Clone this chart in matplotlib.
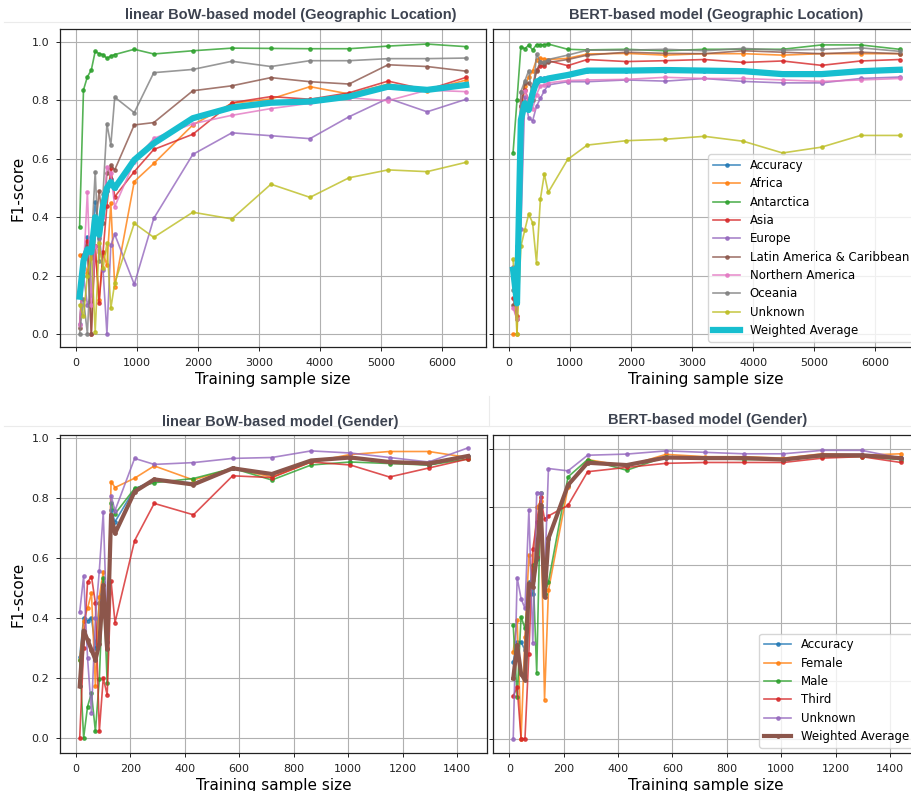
import matplotlib
matplotlib.use("Agg")
import matplotlib.pyplot as plt
from matplotlib.lines import Line2D

# ---------------- data ----------------
x_geo = [64, 128, 192, 256, 320, 384, 448, 512, 576, 640,
         960, 1280, 1920, 2560, 3200, 3840, 4480, 5120, 5760, 6400]
geo_labels = ["Accuracy", "Africa", "Antarctica", "Asia", "Europe",
              "Latin America & Caribbean", "Northern America", "Oceania", "Unknown"]

bow_geo = {
    "Accuracy": [0.14, 0.26, 0.333, 0.27, 0.453, 0.33, 0.43, 0.49, 0.53, 0.50,
                 0.60, 0.655, 0.74, 0.777, 0.793, 0.797, 0.815, 0.846, 0.837, 0.854],
    "Africa": [0.27, 0.25, 0.21, 0.26, 0.30, 0.116, 0.276, 0.236, 0.447, 0.162,
               0.522, 0.584, 0.716, 0.790, 0.805, 0.847, 0.822, 0.856, 0.833, 0.870],
    "Antarctica": [0.365, 0.836, 0.881, 0.904, 0.968, 0.960, 0.957, 0.944, 0.952, 0.957,
                   0.975, 0.959, 0.970, 0.979, 0.978, 0.977, 0.977, 0.986, 0.993, 0.984],
    "Asia": [0.15, 0.27, 0.32, 0.0, 0.30, 0.105, 0.28, 0.44, 0.567, 0.47,
             0.556, 0.632, 0.684, 0.792, 0.813, 0.804, 0.826, 0.866, 0.836, 0.879],
    "Europe": [0.034, 0.20, 0.10, 0.134, 0.38, 0.34, 0.22, 0.0, 0.305, 0.341,
               0.17, 0.396, 0.615, 0.689, 0.679, 0.669, 0.744, 0.807, 0.761, 0.804],
    "Latin America & Caribbean": [0.02, 0.25, 0.30, 0.0, 0.35, 0.49, 0.38, 0.55, 0.579, 0.562,
                                  0.716, 0.724, 0.833, 0.850, 0.878, 0.864, 0.856, 0.922, 0.916, 0.900],
    "Northern America": [0.03, 0.22, 0.487, 0.10, 0.30, 0.28, 0.40, 0.573, 0.55, 0.436,
                         0.59, 0.67, 0.72, 0.749, 0.772, 0.79, 0.809, 0.799, 0.835, 0.83],
    "Oceania": [0.0, 0.12, 0.0, 0.30, 0.556, 0.25, 0.48, 0.719, 0.647, 0.811,
                0.758, 0.895, 0.906, 0.934, 0.916, 0.936, 0.936, 0.943, 0.943, 0.945],
    "Unknown": [0.10, 0.06, 0.20, 0.28, 0.008, 0.31, 0.225, 0.31, 0.088, 0.174,
                0.379, 0.331, 0.417, 0.394, 0.513, 0.468, 0.535, 0.562, 0.556, 0.588],
}
bow_geo_wavg = [0.128, 0.25, 0.29, 0.28, 0.40, 0.34, 0.44, 0.50, 0.52, 0.50,
                0.596, 0.653, 0.739, 0.776, 0.792, 0.796, 0.813, 0.847, 0.836, 0.853]

bert_geo = {
    "Accuracy": [0.22, 0.105, 0.72, 0.79, 0.77, 0.82, 0.86, 0.875, 0.876, 0.875,
                 0.887, 0.90, 0.90, 0.902, 0.90, 0.90, 0.89, 0.89, 0.90, 0.905],
    "Africa": [0.0, 0.0, 0.80, 0.85, 0.88, 0.90, 0.94, 0.944, 0.942, 0.94,
               0.944, 0.959, 0.961, 0.955, 0.96, 0.96, 0.955, 0.96, 0.96, 0.96],
    "Antarctica": [0.621, 0.80, 0.984, 0.977, 0.989, 0.973, 0.991, 0.990, 0.991, 0.993,
                   0.975, 0.973, 0.975, 0.97, 0.975, 0.975, 0.975, 0.99, 0.99, 0.975],
    "Asia": [0.122, 0.06, 0.78, 0.836, 0.80, 0.847, 0.904, 0.918, 0.918, 0.936,
             0.919, 0.94, 0.933, 0.936, 0.94, 0.93, 0.935, 0.92, 0.935, 0.94],
    "Europe": [0.23, 0.15, 0.36, 0.81, 0.74, 0.73, 0.78, 0.807, 0.833, 0.853,
               0.864, 0.864, 0.87, 0.866, 0.875, 0.865, 0.86, 0.86, 0.875, 0.88],
    "Latin America & Caribbean": [0.10, 0.05, 0.78, 0.858, 0.86, 0.84, 0.90, 0.933, 0.925, 0.93,
                                  0.94, 0.955, 0.965, 0.961, 0.96, 0.97, 0.965, 0.96, 0.965, 0.96],
    "Northern America": [0.09, 0.05, 0.83, 0.833, 0.80, 0.77, 0.82, 0.85, 0.853, 0.86,
                         0.868, 0.87, 0.872, 0.879, 0.875, 0.875, 0.87, 0.865, 0.87, 0.875],
    "Oceania": [0.15, 0.30, 0.83, 0.866, 0.902, 0.80, 0.959, 0.93, 0.93, 0.94,
                0.955, 0.972, 0.972, 0.975, 0.97, 0.978, 0.972, 0.975, 0.98, 0.968],
    "Unknown": [0.256, 0.0, 0.30, 0.356, 0.411, 0.381, 0.244, 0.462, 0.548, 0.485,
                0.598, 0.647, 0.662, 0.667, 0.677, 0.66, 0.62, 0.64, 0.68, 0.68],
}
bert_geo_wavg = [0.22, 0.105, 0.733, 0.79, 0.767, 0.824, 0.864, 0.87, 0.87, 0.875,
                 0.887, 0.902, 0.902, 0.904, 0.902, 0.90, 0.89, 0.89, 0.90, 0.905]

x_gen = [14.4, 28.8, 43.2, 57.6, 72, 86.4, 100.8, 115.2, 129.6, 144,
         216, 288, 432, 576, 720, 864, 1008, 1152, 1296, 1440]
gen_labels = ["Accuracy", "Female", "Male", "Third", "Unknown"]

bow_gen = {
    "Accuracy": [0.27, 0.40, 0.39, 0.40, 0.30, 0.45, 0.52, 0.32, 0.76, 0.721,
                 0.83, 0.86, 0.85, 0.90, 0.88, 0.925, 0.935, 0.92, 0.91, 0.94],
    "Female": [0.26, 0.39, 0.433, 0.483, 0.172, 0.47, 0.555, 0.30, 0.855, 0.835,
               0.866, 0.907, 0.86, 0.899, 0.87, 0.92, 0.945, 0.955, 0.955, 0.935],
    "Male": [0.26, 0.0, 0.105, 0.15, 0.022, 0.196, 0.533, 0.183, 0.782, 0.747,
             0.832, 0.851, 0.865, 0.899, 0.86, 0.91, 0.92, 0.915, 0.91, 0.93],
    "Third": [0.0, 0.30, 0.52, 0.538, 0.45, 0.022, 0.20, 0.144, 0.522, 0.385,
              0.658, 0.782, 0.744, 0.874, 0.868, 0.92, 0.91, 0.87, 0.90, 0.93],
    "Unknown": [0.42, 0.54, 0.266, 0.085, 0.40, 0.558, 0.752, 0.35, 0.807, 0.758,
                0.932, 0.912, 0.918, 0.932, 0.935, 0.957, 0.95, 0.935, 0.92, 0.967],
}
bow_gen_wavg = [0.172, 0.358, 0.327, 0.294, 0.261, 0.314, 0.51, 0.296, 0.744, 0.682,
                0.821, 0.862, 0.845, 0.899, 0.88, 0.925, 0.935, 0.92, 0.915, 0.94]

bert_gen = {
    "Accuracy": [0.265, 0.334, 0.334, 0.306, 0.542, 0.50, 0.62, 0.80, 0.50, 0.69,
                 0.875, 0.955, 0.946, 0.972, 0.972, 0.97, 0.966, 0.98, 0.98, 0.97],
    "Female": [0.30, 0.41, 0.0, 0.35, 0.634, 0.55, 0.80, 0.82, 0.135, 0.513,
               0.87, 0.965, 0.942, 0.983, 0.975, 0.975, 0.97, 0.985, 0.98, 0.985],
    "Male": [0.392, 0.144, 0.421, 0.381, 0.50, 0.60, 0.228, 0.848, 0.50, 0.542,
             0.905, 0.965, 0.928, 0.975, 0.97, 0.965, 0.965, 0.975, 0.975, 0.965],
    "Third": [0.146, 0.179, 0.0, 0.0, 0.294, 0.654, 0.75, 0.834, 0.759, 0.77,
              0.807, 0.923, 0.938, 0.952, 0.955, 0.955, 0.955, 0.97, 0.975, 0.955],
    "Unknown": [0.0, 0.557, 0.484, 0.45, 0.792, 0.331, 0.851, 0.85, 0.55, 0.934,
                0.926, 0.98, 0.984, 0.995, 0.99, 0.985, 0.985, 0.997, 0.997, 0.97],
}
bert_gen_wavg = [0.208, 0.323, 0.225, 0.202, 0.536, 0.525, 0.629, 0.807, 0.49, 0.692,
                 0.877, 0.954, 0.946, 0.972, 0.97, 0.97, 0.965, 0.98, 0.98, 0.97]

titles = ["linear BoW-based model (Geographic Location)",
          "BERT-based model (Geographic Location)",
          "linear BoW-based model (Gender)",
          "BERT-based model (Gender)"]

# ---------------- figure ----------------
W, H = 912, 791
fig = plt.figure(figsize=(W / 100, H / 100), dpi=100)

def rect(x0, y0, x1, y1):
    return [x0 / W, 1 - y1 / H, (x1 - x0) / W, (y1 - y0) / H]

ax_tl = fig.add_axes(rect(60, 29, 486, 347))
ax_tr = fig.add_axes(rect(493, 29, 919, 347))
ax_bl = fig.add_axes(rect(60, 435, 487, 753))
ax_br = fig.add_axes(rect(493, 435, 919, 753))

colors = ["#1f77b4", "#ff7f0e", "#2ca02c", "#d62728", "#9467bd",
          "#8c564b", "#e377c2", "#7f7f7f", "#bcbd22", "#17becf"]

def style(ax, show_ylabels):
    ax.grid(True, color="#b0b0b0", linewidth=0.8)
    ax.set_axisbelow(True)
    ax.tick_params(labelsize=8, length=3.2, width=0.7, pad=4.5, colors="#222222")
    for s in ax.spines.values():
        s.set_linewidth(0.9)
        s.set_color("#222222")
    ax.set_yticks([0.0, 0.2, 0.4, 0.6, 0.8, 1.0])
    if show_ylabels:
        ax.set_ylabel("F1-score", fontsize=11)
    else:
        ax.tick_params(labelleft=False)
    ax.set_xlabel("Training sample size", fontsize=11, labelpad=3)

def draw(ax, x, data, labels, wavg, wcolor, wlw, wmarker):
    for i, lab in enumerate(labels):
        ax.plot(x, data[lab], marker=".", markersize=4.8, linewidth=1.2,
                color=colors[i], alpha=0.8, label=lab)
    ax.plot(x, wavg, marker=wmarker, markersize=4.8, linewidth=wlw,
            color=wcolor, label="Weighted Average", zorder=5)

draw(ax_tl, x_geo, bow_geo, geo_labels, bow_geo_wavg, colors[9], 4.5, None)
draw(ax_tr, x_geo, bert_geo, geo_labels, bert_geo_wavg, colors[9], 4.5, None)
draw(ax_bl, x_gen, bow_gen, gen_labels, bow_gen_wavg, colors[5], 3.0, ".")
draw(ax_br, x_gen, bert_gen, gen_labels, bert_gen_wavg, colors[5], 3.0, ".")

for ax in (ax_tl, ax_tr):
    ax.set_xticks([0, 1000, 2000, 3000, 4000, 5000, 6000])
    ax.set_ylim(-0.0445, 1.0445)
ax_tl.set_xlim(-257, 6725)
ax_tr.set_xlim(-265, 6717)
for ax in (ax_bl, ax_br):
    ax.set_xticks([0, 200, 400, 600, 800, 1000, 1200, 1400])
ax_bl.set_xlim(-58, 1510)
ax_br.set_xlim(-60, 1507)
ax_bl.set_ylim(-0.05, 1.01)
ax_br.set_ylim(-0.05, 1.05)

style(ax_tl, True)
style(ax_tr, False)
style(ax_bl, True)
style(ax_br, False)

leg_kw = dict(loc="lower right", fontsize=8.5, framealpha=0.8,
              labelspacing=0.45, handlelength=2.3, borderaxespad=0.45)
ax_tr.legend(**leg_kw)
ax_br.legend(**leg_kw)

title_pos = [(291, 15), (716, 15), (280, 422), (708, 420)]
for t, (px, py) in zip(titles, title_pos):
    fig.text(px / W, 1 - py / H, t, ha="center", va="center",
             fontsize=10.5, fontweight="bold", color="#3d4350",
             family=["Liberation Sans", "DejaVu Sans"])

# faint borders of the original tiles
sep = dict(color="#ebebeb", linewidth=0.8, transform=fig.transFigure)
for (x0, y0, x1, y1) in [(4, 22, 912, 22), (4, 426, 912, 426),
                         (489, 396, 489, 426)]:
    fig.add_artist(Line2D([x0 / W, x1 / W], [1 - y0 / H, 1 - y1 / H], **sep))

fig.savefig("out.png", dpi=100)
